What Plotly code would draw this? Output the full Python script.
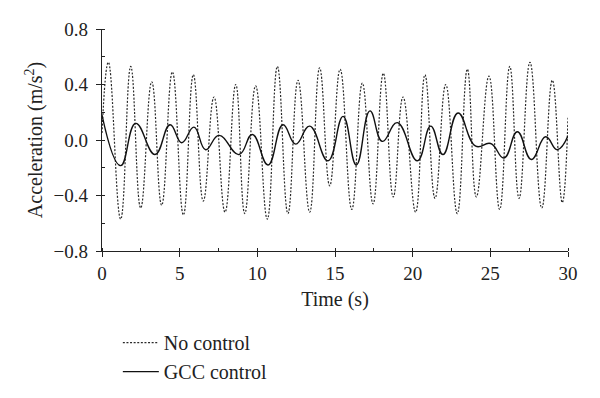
import plotly.graph_objects as go

# No control: extremes (time s, acceleration m/s^2)
nc_t = [0.0, 0.41, 1.20, 1.85, 2.49, 3.20, 3.84, 4.53, 5.24, 5.88, 6.52, 7.21, 7.92,
        8.61, 9.19, 9.89, 10.64, 11.29, 11.97, 12.62, 13.37, 14.01, 14.66, 15.33,
        16.08, 16.76, 17.45, 18.11, 18.75, 19.38, 20.19, 20.79, 21.44, 22.13, 22.87,
        23.52, 24.10, 24.91, 25.60, 26.25, 26.85, 27.55, 28.31, 28.99, 29.63, 30.0]
nc_v = [0.05, 0.56, -0.57, 0.53, -0.49, 0.42, -0.47, 0.49, -0.54, 0.47, -0.44, 0.31, -0.52,
        0.40, -0.53, 0.39, -0.57, 0.53, -0.53, 0.43, -0.52, 0.52, -0.33, 0.51,
        -0.50, 0.41, -0.46, 0.48, -0.41, 0.31, -0.52, 0.47, -0.42, 0.40, -0.53,
        0.51, -0.41, 0.46, -0.50, 0.53, -0.42, 0.56, -0.49, 0.43, -0.45, 0.16]

# GCC control: extremes
gcc_t = [0.0, 1.20, 2.17, 3.41, 4.38, 5.13, 5.92, 6.67, 7.53, 8.82, 9.68, 10.69, 11.65,
         12.47, 13.37, 14.55, 15.52, 16.37, 17.25, 18.05, 19.01, 20.30, 21.16, 21.95,
         22.92, 24.06, 25.02, 25.88, 26.74, 27.64, 28.56, 29.31, 30.0]
gcc_v = [0.18, -0.185, 0.12, -0.105, 0.11, -0.02, 0.093, -0.07, 0.033, -0.105, 0.04, -0.18, 0.11,
         -0.03, 0.10, -0.15, 0.17, -0.18, 0.21, -0.01, 0.125, -0.15, 0.10, -0.105,
         0.195, -0.045, -0.025, -0.13, 0.06, -0.14, 0.023, -0.07, 0.03]

x_ticks = [0, 5, 10, 15, 20, 25, 30]
y_ticks = [-0.8, -0.4, 0.0, 0.4, 0.8]

FONT = "Liberation Serif"
INK = "#222222"

fig = go.Figure()
fig.add_trace(go.Scatter(
    x=nc_t, y=nc_v, mode="lines", name="No control", legendgroup="a",
    line=dict(color="#2a2a2a", width=1.2, dash="2px,1.6px", shape="spline", smoothing=1.3),
))
fig.add_trace(go.Scatter(
    x=gcc_t, y=gcc_v, mode="lines", name="GCC control", legendgroup="b",
    line=dict(color="#111111", width=1.4, shape="spline", smoothing=1.3),
))

axis_common = dict(
    showline=True, linecolor=INK, linewidth=1.3,
    ticks="outside", ticklen=5, tickwidth=1.2, tickcolor=INK,
    showgrid=False, zeroline=False, mirror=False, automargin=False,
    tickfont=dict(family=FONT, size=19, color=INK),
)

fig.update_xaxes(
    range=[0, 30], tickvals=x_ticks,
    minor=dict(dtick=2.5, ticks="inside", ticklen=3, tickwidth=1, tickcolor=INK),
    title=dict(text="Time (s)", font=dict(family=FONT, size=20, color=INK), standoff=9),
    **axis_common,
)
fig.update_yaxes(
    range=[-0.8, 0.8], tickvals=y_ticks, tickformat=".1f",
    minor=dict(dtick=0.2, ticks="inside", ticklen=3, tickwidth=1, tickcolor=INK),
    title=dict(text="Acceleration (m/s<sup>2</sup>)", font=dict(family=FONT, size=20, color=INK), standoff=5),
    ticklabelstandoff=4,
    **axis_common,
)

# the page adds an 8px body margin, so the figure is drawn 8px smaller and offset
fig.update_layout(
    width=592, height=390,
    margin=dict(l=94, r=32, t=21, b=147, autoexpand=False),
    plot_bgcolor="white", paper_bgcolor="white",
    showlegend=True,
    legend=dict(
        x=0.034, y=0.192, xref="paper", yref="container",
        xanchor="left", yanchor="top",
        font=dict(family=FONT, size=20, color=INK),
        traceorder="grouped", tracegroupgap=0, itemwidth=36,
        bgcolor="rgba(0,0,0,0)",
    ),
)

fig.write_html("out.html")
